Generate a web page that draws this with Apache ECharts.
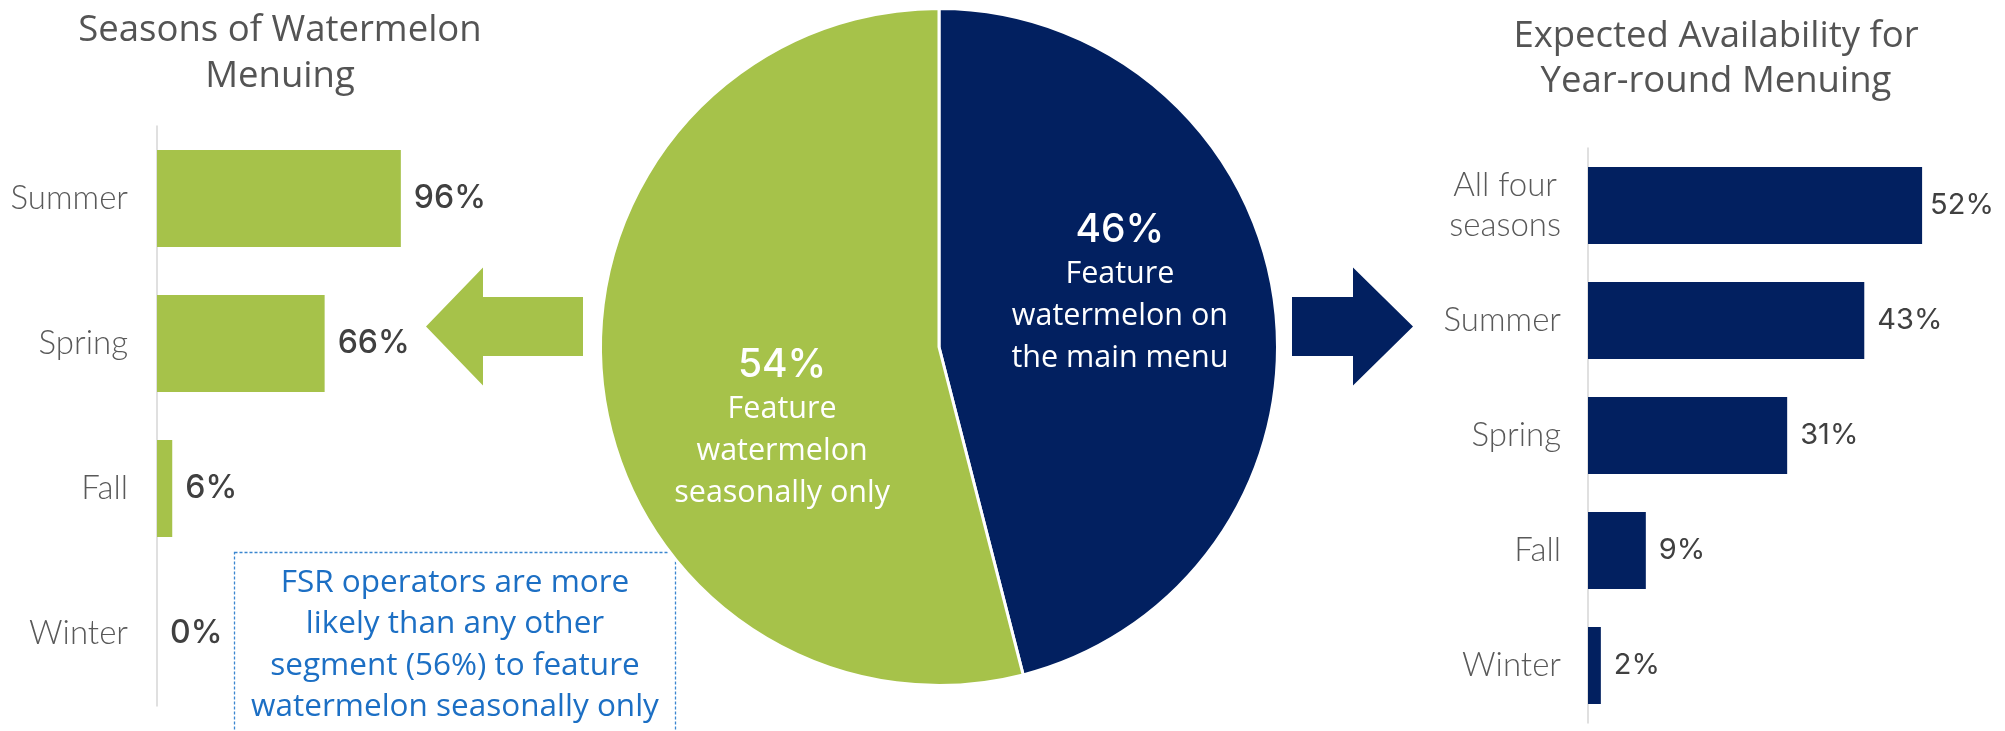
<!DOCTYPE html>
<html>
<head>
<meta charset="utf-8">
<script src="https://cdn.jsdelivr.net/npm/echarts@6/dist/echarts.min.js"></script>
<style>
  html, body { margin: 0; padding: 0; background: #ffffff; }
  #chart { width: 2005px; height: 731px; }
</style>
</head>
<body>
<div id="chart"></div>
<script>
// Seasons in which watermelon is menued (seasonal operators)
const seasonCategories = ['Summer', 'Spring', 'Fall', 'Winter'];
const seasonValues = [96, 66, 6, 0];

// Split between seasonal and main-menu operators
const menuNames = ['Feature\nwatermelon on\nthe main menu', 'Feature\nwatermelon\nseasonally only'];
const menuValues = [46, 54];

// Expected availability for year-round menuing
const yearCategories = ['All four\nseasons', 'Summer', 'Spring', 'Fall', 'Winter'];
const yearValues = [52, 43, 31, 9, 2];

const GREEN = '#A6C24A';
const NAVY = '#022060';
const GREY_TEXT = '#595959';
const TITLE_TEXT = '#545454';
const DARK_TEXT = '#404040';
const BLUE_TEXT = '#1C6FC4';

const chart = echarts.init(document.getElementById('chart'), null, { renderer: 'canvas' });

// nudges that move the pie labels off the default mid-radius anchor
const pieLabelNudge = [[10, -32], [14, 60]];

const categoryLabel = {
  margin: 28,
  fontFamily: 'Lato',
  fontWeight: 300,
  fontSize: 33,
  color: GREY_TEXT,
  formatter: v => v.split('\n').map(s => '{c|' + s + '}').join('\n'),
  rich: { c: { align: 'center', fontFamily: 'Lato', fontWeight: 300, fontSize: 33, color: GREY_TEXT, lineHeight: 40 } }
};

const option = {
  animation: false,
  backgroundColor: '#ffffff',
  title: [
    {
      text: 'Seasons of Watermelon\nMenuing',
      left: 280, top: 8, textAlign: 'center', padding: 0,
      textStyle: { fontFamily: 'Open Sans', fontWeight: 'normal', fontSize: 36.5, color: TITLE_TEXT, lineHeight: 46 }
    },
    {
      text: 'Expected Availability for\nYear-round Menuing',
      left: 1716, top: 14, textAlign: 'center', padding: 0,
      textStyle: { fontFamily: 'Open Sans', fontWeight: 'normal', fontSize: 36.5, color: TITLE_TEXT, lineHeight: 45 }
    }
  ],
  grid: [
    { left: 157, top: 126, width: 254, height: 580 },
    { left: 1588, top: 148, width: 385.5, height: 575 }
  ],
  xAxis: [
    { gridIndex: 0, type: 'value', min: 0, max: 100, show: false },
    { gridIndex: 1, type: 'value', min: 0, max: 60, show: false }
  ],
  yAxis: [
    {
      gridIndex: 0, type: 'category', inverse: true, data: seasonCategories,
      axisLine: { show: true, lineStyle: { color: '#D6D6D6', width: 1.5 } },
      axisTick: { show: false },
      axisLabel: Object.assign({}, categoryLabel, { margin: 29 })
    },
    {
      gridIndex: 1, type: 'category', inverse: true, data: yearCategories,
      axisLine: { show: true, lineStyle: { color: '#D6D6D6', width: 1.5 } },
      axisTick: { show: false },
      axisLabel: Object.assign({}, categoryLabel, { margin: 27 })
    }
  ],
  series: [
    {
      type: 'bar', xAxisIndex: 0, yAxisIndex: 0,
      data: seasonValues,
      barCategoryGap: '33%',
      itemStyle: { color: GREEN },
      label: {
        show: true, position: 'right', distance: 13,
        formatter: '{c}%',
        fontFamily: 'Inter', fontWeight: 500, fontSize: 32, color: DARK_TEXT
      },
      emphasis: { disabled: true }
    },
    {
      type: 'bar', xAxisIndex: 1, yAxisIndex: 1,
      data: yearValues.map((v, i) => i === 0 ? { value: v, label: { distance: 8 } } : v),
      barCategoryGap: '33%',
      itemStyle: { color: NAVY },
      label: {
        show: true, position: 'right', distance: 13,
        formatter: '{c}%',
        fontFamily: 'Inter', fontWeight: 400, fontSize: 29, color: DARK_TEXT
      },
      emphasis: { disabled: true }
    },
    {
      type: 'pie',
      center: [939, 347],
      radius: 338.5,
      startAngle: 90,
      clockwise: true,
      data: menuNames.map((n, i) => ({ name: n, value: menuValues[i], itemStyle: { color: i === 0 ? NAVY : GREEN } })),
      itemStyle: { borderColor: '#ffffff', borderWidth: 3 },
      label: {
        show: true, position: 'inside',
        formatter: p => '{p|' + p.value + '%}\n' + p.name.split('\n').map(s => '{t|' + s + '}').join('\n'),
        rich: {
          p: { fontFamily: 'Inter', fontWeight: 500, fontSize: 39, color: '#ffffff', lineHeight: 46, align: 'center' },
          t: { fontFamily: 'Open Sans', fontSize: 30.5, color: '#ffffff', lineHeight: 42, align: 'center' }
        }
      },
      labelLine: { show: false },
      labelLayout: p => ({ dx: pieLabelNudge[p.dataIndex][0], dy: pieLabelNudge[p.dataIndex][1] }),
      emphasis: { disabled: true }
    }
  ],
  graphic: [
    {
      // arrow pointing from the seasonal slice to the season breakdown
      type: 'polygon',
      shape: { points: [[583, 297], [483, 297], [483, 267.5], [426, 326.5], [483, 385.5], [483, 356], [583, 356]] },
      style: { fill: GREEN }
    },
    {
      // arrow pointing from the main-menu slice to the availability breakdown
      type: 'polygon',
      shape: { points: [[1292, 297], [1353, 297], [1353, 267.5], [1413, 326.5], [1353, 385.5], [1353, 356], [1292, 356]] },
      style: { fill: NAVY }
    },
    {
      type: 'rect',
      shape: { x: 234.5, y: 552.5, width: 441, height: 220 },
      style: { fill: 'none', stroke: '#3A86D0', lineWidth: 1.3, lineDash: [3, 2] }
    },
    {
      type: 'text',
      x: 455, y: 562,
      style: {
        text: 'FSR operators are more\nlikely than any other\nsegment (56%) to feature\nwatermelon seasonally only',
        fontFamily: 'Open Sans', fontSize: 31.5, lineHeight: 41.5,
        fill: BLUE_TEXT, align: 'center', verticalAlign: 'top'
      }
    }
  ]
};

chart.setOption(option);
</script>
</body>
</html>
